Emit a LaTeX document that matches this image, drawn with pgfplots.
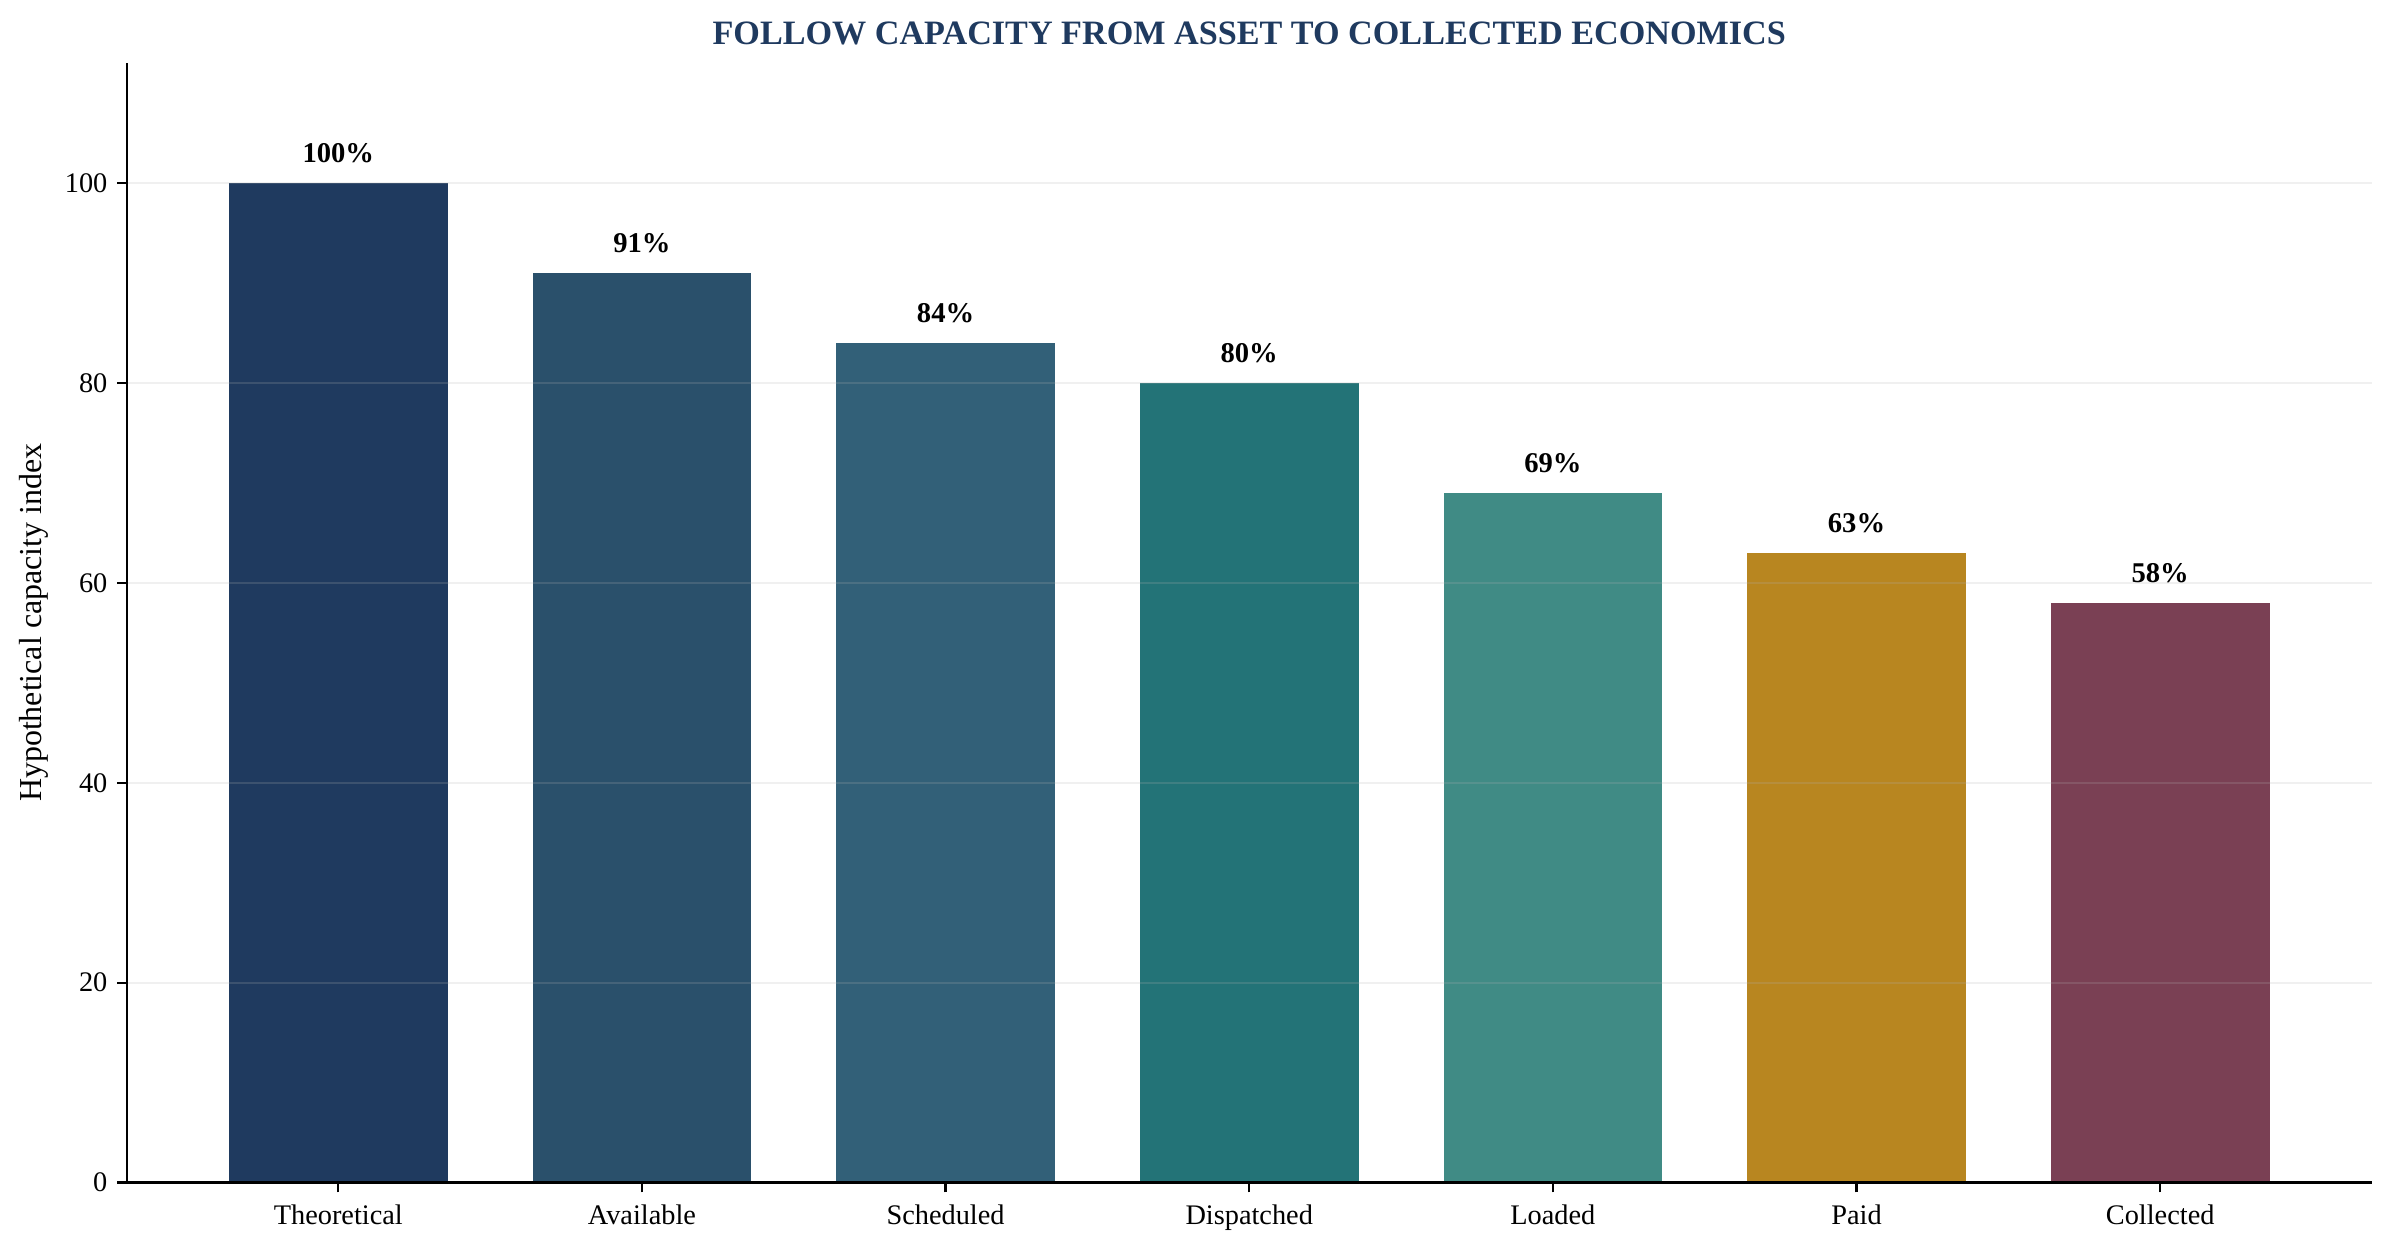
\documentclass[border=0pt]{standalone}
\usepackage{pgfplots}
\pgfplotsset{compat=1.18}
\usepackage{fontspec}
\setmainfont{Liberation Serif}
\definecolor{c1}{HTML}{1F3A5F}
\definecolor{c2}{HTML}{2A506B}
\definecolor{c3}{HTML}{326078}
\definecolor{c4}{HTML}{237377}
\definecolor{c5}{HTML}{408B85}
\definecolor{c6}{HTML}{B88620}
\definecolor{c7}{HTML}{7A4054}
\begin{document}
\begin{tikzpicture}
\useasboundingbox (-45.7pt,-25.6pt) rectangle (816.1pt,425.7pt);
\begin{axis}[
  scale only axis,
  width=808pt, height=403pt,
  at={(0,0)}, anchor=south west,
  xmin=-0.696, xmax=6.696,
  ymin=0, ymax=112,
  axis x line*=bottom, axis y line*=left,
  axis line style={line width=0.8pt},
  xtick={0,1,2,3,4,5,6},
  xticklabels={Theoretical,Available,Scheduled,Dispatched,Loaded,Paid,Collected},
  ytick={0,20,40,60,80,100},
  tick align=outside,
  major tick length=3.5pt,
  tick style={line width=0.8pt, black},
  tick label style={font=\fontsize{10.2}{12}\selectfont},
  x tick label style={yshift=-1pt},
  /pgf/number format/assume math mode=true,
  ymajorgrids,
  major grid style={draw=black!30, opacity=0.2, line width=0.8pt},
  axis on top,
  ylabel={Hypothetical capacity index},
  ylabel style={at={([xshift=-33.5pt]axis description cs:0,0.5)}, anchor=center, font=\fontsize{11.5}{13}\selectfont},
  title={FOLLOW CAPACITY FROM ASSET TO COLLECTED ECONOMICS},
  title style={at={(axis description cs:0.5,1)}, anchor=center, yshift=4.7pt, font=\bfseries\fontsize{12.3}{14}\selectfont, text=c1},
  ybar, bar width=0.72, bar shift=0pt,
  nodes near coords={\textbf{\pgfmathprintnumber{\pgfplotspointmeta}\%}},
  every node near coord/.append style={font=\fontsize{10.3}{12}\selectfont, anchor=base, inner sep=0pt, yshift=7.2pt, text=black},
]
\addplot[draw=none, fill=c1] coordinates {(0,100)};
\addplot[draw=none, fill=c2] coordinates {(1,91)};
\addplot[draw=none, fill=c3] coordinates {(2,84)};
\addplot[draw=none, fill=c4] coordinates {(3,80)};
\addplot[draw=none, fill=c5] coordinates {(4,69)};
\addplot[draw=none, fill=c6] coordinates {(5,63)};
\addplot[draw=none, fill=c7] coordinates {(6,58)};
\end{axis}
\end{tikzpicture}
\end{document}
